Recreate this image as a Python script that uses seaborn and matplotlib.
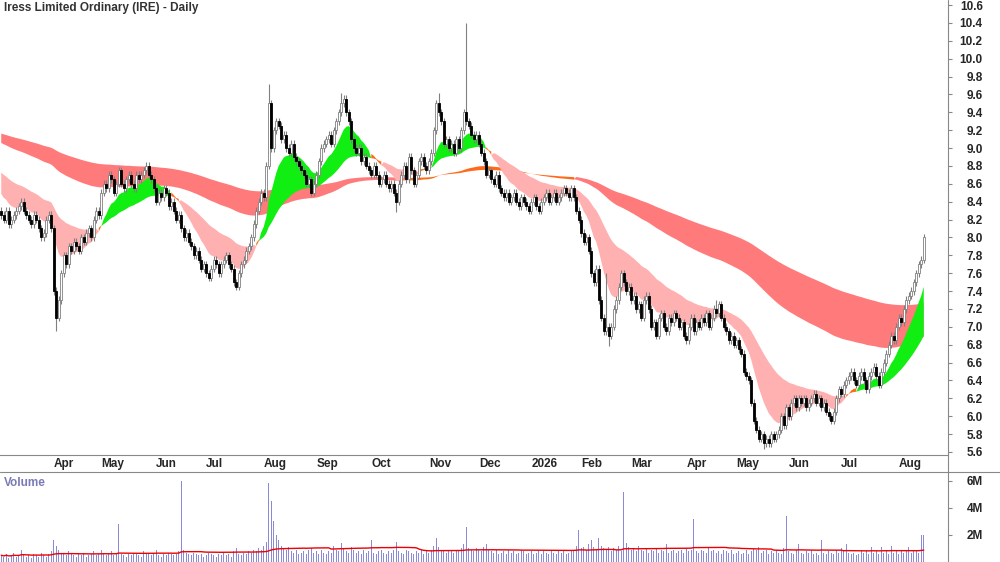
import matplotlib
matplotlib.use("Agg")
import matplotlib.pyplot as plt
import seaborn as sns
import numpy as np
import pandas as pd

# ribbon levels at the first visible bar
short_seed = {"fast": 8.53, "slow": 8.75}
long_seed = {"fast": 9.07, "slow": 9.17}
short_spans = (12, 40)
long_spans = (120, 220)

closes = [8.25, 8.2, 8.3, 8.15, 8.2, 8.25, 8.3, 8.35, 8.4, 8.3,
          8.25, 8.2, 8.15, 8.25, 8.2, 8.1, 8.0, 8.05, 8.2, 8.25,
          8.1, 7.4, 7.1, 7.3, 7.6, 7.8, 7.7, 7.9, 7.85, 7.95,
          7.9, 7.85, 8.0, 7.95, 8.05, 8.1, 8.0, 8.2, 8.3, 8.25,
          8.5, 8.6, 8.55, 8.7, 8.65, 8.5, 8.6, 8.75, 8.6, 8.55,
          8.65, 8.7, 8.6, 8.55, 8.7, 8.65, 8.7, 8.75, 8.8, 8.7,
          8.65, 8.55, 8.4, 8.5, 8.45, 8.55, 8.5, 8.35, 8.4, 8.3,
          8.2, 8.25, 8.1, 8.0, 8.05, 7.95, 7.9, 7.8, 7.85, 7.75,
          7.65, 7.7, 7.6, 7.55, 7.65, 7.75, 7.7, 7.6, 7.7, 7.75,
          7.8, 7.7, 7.65, 7.5, 7.45, 7.6, 7.7, 7.75, 7.85, 7.9,
          8.0, 8.15, 8.3, 8.4, 8.5, 8.45, 8.8, 9.5, 9.0, 9.2,
          9.3, 9.25, 9.1, 9.15, 9.0, 8.95, 9.05, 8.9, 8.85, 8.8,
          8.75, 8.7, 8.6, 8.65, 8.5, 8.6, 8.7, 8.85, 9.0, 9.05,
          9.1, 9.15, 9.05, 9.2, 9.3, 9.4, 9.5, 9.55, 9.4, 9.3,
          9.1, 9.0, 8.95, 9.0, 8.85, 8.9, 8.8, 8.75, 8.7, 8.8,
          8.7, 8.6, 8.65, 8.7, 8.6, 8.55, 8.6, 8.5, 8.4, 8.6,
          8.7, 8.8, 8.65, 8.9, 8.75, 8.6, 8.7, 8.85, 8.9, 8.8,
          8.75, 8.85, 8.95, 9.2, 9.5, 9.4, 9.3, 9.05, 9.1, 9.0,
          9.05, 8.95, 9.1, 9.0, 9.2, 9.4, 9.3, 9.25, 9.15, 9.1,
          9.15, 9.05, 8.95, 8.85, 8.7, 8.75, 8.65, 8.6, 8.7, 8.55,
          8.5, 8.45, 8.5, 8.4, 8.45, 8.5, 8.4, 8.35, 8.45, 8.4,
          8.35, 8.3, 8.4, 8.45, 8.35, 8.3, 8.4, 8.45, 8.5, 8.4,
          8.45, 8.5, 8.4, 8.45, 8.5, 8.55, 8.5, 8.45, 8.55, 8.45,
          8.3, 8.2, 8.05, 7.95, 8.0, 7.85, 7.6, 7.5, 7.65, 7.3,
          7.1, 6.95, 7.0, 6.9, 7.0, 7.2, 7.3, 7.45, 7.6, 7.5,
          7.4, 7.45, 7.3, 7.35, 7.2, 7.25, 7.1, 7.3, 7.35, 7.2,
          7.0, 7.05, 6.9, 7.1, 7.15, 7.0, 6.95, 7.1, 7.05, 7.15,
          7.1, 7.0, 7.05, 6.9, 6.85, 7.0, 7.1, 6.95, 7.05, 7.0,
          7.1, 7.05, 7.15, 7.0, 7.1, 7.2, 7.15, 7.25, 7.1, 7.0,
          6.95, 6.85, 6.9, 6.8, 6.85, 6.75, 6.7, 6.5, 6.45, 6.4,
          6.15, 5.95, 5.85, 5.75, 5.8, 5.7, 5.75, 5.7, 5.8, 5.75,
          5.8, 5.85, 6.0, 5.9, 6.1, 6.0, 6.15, 6.2, 6.1, 6.2,
          6.15, 6.2, 6.1, 6.15, 6.2, 6.25, 6.15, 6.2, 6.1, 6.15,
          6.05, 6.0, 5.95, 6.05, 6.2, 6.3, 6.25, 6.35, 6.4, 6.45,
          6.5, 6.4, 6.35, 6.45, 6.5, 6.4, 6.3, 6.45, 6.5, 6.55,
          6.45, 6.35, 6.5, 6.6, 6.7, 6.8, 6.9, 6.85, 7.0, 7.1,
          7.05, 7.2, 7.3, 7.35, 7.4, 7.5, 7.6, 7.7, 7.75, 8.0]
first_open = 8.3

# long wicks that stand out
extra_highs = {107: 9.72, 136: 9.62, 175: 9.62, 186: 10.4, 242: 7.6, 286: 7.3}
extra_lows = {22: 6.95, 158: 8.28, 243: 6.78, 305: 5.63}

# volume in millions
volume = [0.5, 0.4, 0.6, 0.3, 0.5, 0.7, 0.4, 0.5, 0.9, 0.6,
          0.4, 0.5, 0.3, 0.6, 0.5, 0.4, 0.7, 0.5, 0.4, 0.6,
          0.8, 1.6, 1.2, 0.9, 0.7, 0.6, 0.5, 0.8, 0.6, 0.5,
          0.4, 0.6, 0.5, 0.7, 0.4, 0.5, 0.6, 0.8, 0.5, 0.6,
          0.9, 0.7, 0.5, 0.6, 0.8, 0.5, 0.7, 2.8, 0.6, 0.5,
          0.4, 0.6, 0.5, 0.7, 0.6, 0.5, 0.4, 0.8, 0.6, 0.7,
          0.5, 0.6, 0.9, 0.5, 0.4, 0.6, 0.5, 0.7, 0.6, 0.5,
          0.6, 0.8, 6.0, 0.9, 0.7, 0.6, 0.5, 0.7, 0.6, 0.5,
          0.6, 0.4, 0.5, 0.7, 0.6, 0.5, 0.4, 0.6, 0.5, 0.7,
          0.5, 0.6, 0.4, 0.8, 1.0, 0.6, 0.5, 0.7, 0.6, 0.8,
          0.7, 0.9, 0.8, 1.0, 0.9, 1.2, 1.5, 5.8, 4.5, 3.0,
          2.0, 1.6, 1.2, 1.0, 0.9, 1.1, 0.8, 0.7, 0.9, 0.6,
          0.7, 0.8, 0.6, 0.9, 1.0, 0.7, 0.8, 0.6, 0.9, 0.7,
          0.6, 0.8, 0.7, 1.2, 0.9, 0.8, 1.4, 1.0, 0.8, 0.7,
          1.1, 0.9, 0.7, 0.8, 0.6, 0.9, 0.7, 0.8, 1.6, 0.7,
          0.6, 0.8, 0.9, 0.7, 0.6, 0.8, 0.7, 0.9, 1.5, 0.8,
          0.7, 0.6, 0.9, 0.8, 0.7, 0.6, 0.8, 0.7, 0.9, 0.6,
          0.8, 0.7, 0.9, 1.2, 1.8, 1.1, 0.9, 0.8, 0.7, 0.9,
          0.8, 0.7, 0.9, 0.8, 1.0, 1.3, 2.6, 1.0, 0.9, 0.8,
          1.0, 0.9, 0.8, 1.1, 1.3, 0.9, 0.8, 0.7, 0.9, 0.6,
          0.7, 0.8, 0.6, 0.9, 0.7, 0.8, 0.6, 0.7, 0.9, 0.8,
          0.6, 0.7, 0.8, 0.6, 0.7, 0.9, 0.6, 0.8, 0.7, 0.6,
          0.8, 0.7, 0.6, 0.9, 0.7, 0.8, 0.6, 0.7, 0.8, 0.9,
          1.2, 2.4, 1.0, 1.1, 0.9, 1.3, 1.6, 1.1, 0.9, 1.8,
          1.2, 1.0, 0.9, 1.1, 0.8, 1.0, 0.9, 1.2, 0.8, 5.2,
          1.4, 1.1, 0.9, 1.0, 0.8, 1.2, 0.9, 0.8, 1.0, 0.7,
          0.9, 0.8, 1.0, 0.7, 0.9, 0.8, 1.3, 0.7, 0.8, 0.9,
          0.7, 0.8, 0.9, 0.7, 1.0, 0.8, 0.9, 3.2, 0.8, 0.7,
          0.9, 0.8, 0.7, 1.0, 0.8, 0.9, 0.7, 0.8, 0.6, 0.9,
          0.8, 0.7, 0.9, 0.6, 0.7, 0.8, 0.6, 0.7, 0.9, 0.6,
          0.8, 1.0, 0.9, 1.1, 0.7, 0.8, 0.9, 0.6, 0.8, 0.7,
          0.9, 0.7, 0.6, 1.0, 3.4, 0.8, 0.7, 0.6, 0.9, 1.3,
          0.7, 0.6, 0.8, 0.7, 0.9, 0.6, 0.7, 0.5, 1.6, 0.7,
          0.6, 0.8, 0.7, 0.6, 0.9, 0.7, 1.0, 0.8, 1.3, 0.7,
          0.6, 0.7, 0.5, 0.6, 0.8, 0.7, 0.9, 0.6, 1.1, 0.7,
          0.8, 0.6, 1.1, 0.7, 0.9, 0.6, 1.2, 0.7, 0.8, 0.6,
          0.9, 0.7, 0.8, 1.1, 0.7, 0.9, 0.8, 0.7, 2.0, 2.0]

asx_holidays = ["2025-04-18", "2025-04-21", "2025-04-25", "2025-06-09",
                "2025-12-25", "2025-12-26", "2026-01-01", "2026-01-26",
                "2026-04-03", "2026-04-06", "2026-06-08"]

n = len(closes)
dates = pd.bdate_range("2025-03-03", periods=n, freq="C", holidays=asx_holidays)


def ema(seed, span):
    a = 2.0 / (span + 1)
    out, e = [], seed
    for v in closes:
        e = e + a * (v - e)
        out.append(e)
    return np.array(out)


s_fast = ema(short_seed["fast"], short_spans[0])
s_slow = ema(short_seed["slow"], short_spans[1])
l_fast = ema(long_seed["fast"], long_spans[0])
l_slow = ema(long_seed["slow"], long_spans[1])

c = np.array(closes)
o = np.array([first_open] + closes[:-1])
hi = np.maximum(o, c) + 0.04
lo = np.minimum(o, c) - 0.04
for k, v in extra_highs.items():
    hi[k] = v
for k, v in extra_lows.items():
    lo[k] = v
x = np.arange(n)

sns.set_style("white")
plt.rcParams['font.family'] = ['Liberation Sans', 'DejaVu Sans']

fig = plt.figure(figsize=(10, 5.62), dpi=100)
ax = fig.add_axes([0, 1 - 455 / 562, 0.948, 455 / 562])
axv = fig.add_axes([0, 0, 0.948, 88 / 562])

# long ribbon
lt, lb = np.maximum(l_fast, l_slow), np.minimum(l_fast, l_slow)
ld = l_fast - l_slow
ax.fill_between(x, lb, lt, where=ld < -0.03, color="#ff7a7a", lw=0, interpolate=True)
ax.fill_between(x, lb, lt, where=(ld >= -0.03) & (ld <= 0.06), color="#ff6a1a", lw=0, interpolate=True)
ax.fill_between(x, lb, lt, where=ld > 0.06, color="#3cb371", lw=0, interpolate=True)
# short ribbon
st, sb = np.maximum(s_fast, s_slow), np.minimum(s_fast, s_slow)
sd = s_fast - s_slow
ax.fill_between(x, sb, st, where=sd < -0.05, color="#ffb0b0", lw=0, interpolate=True)
ax.fill_between(x, sb, st, where=(sd >= -0.05) & (sd <= 0.05), color="#ff6a1a", lw=0, interpolate=True)
ax.fill_between(x, sb, st, where=sd > 0.05, color="#11ee11", lw=0, interpolate=True)

# candles
up = c >= o
ax.vlines(x, lo, hi, color="#808080", lw=0.8, zorder=3)
ax.bar(x[up], np.maximum(c[up] - o[up], 0.01), bottom=o[up], width=0.7,
       color="white", edgecolor="#808080", lw=0.6, zorder=4)
ax.bar(x[~up], o[~up] - c[~up], bottom=c[~up], width=0.7,
       color="black", edgecolor="black", lw=0.6, zorder=4)

ax.set_xlim(-0.5, 378.7)
ax.set_ylim(5.566, 10.656)
yt = np.round(np.arange(5.6, 10.61, 0.2), 1)
ax.yaxis.tick_right()
ax.set_yticks(yt)
ax.set_yticklabels([f"{v:.1f}" for v in yt], fontsize=8.5, fontweight="bold")
ax.tick_params(axis="y", direction="out", length=3, pad=22, color="#888888")
for lab in ax.get_yticklabels():
    lab.set_horizontalalignment("right")

# month ticks (first partial month left unlabelled)
month_pos, month_lab = [], []
for p in pd.period_range(dates[0], dates[-1], freq="M")[1:]:
    idx = np.where((dates.year == p.year) & (dates.month == p.month))[0]
    month_pos.append(idx[0])
    month_lab.append(str(p.year) if p.month == 1 else dates[idx[0]].strftime("%b"))
ax.set_xticks(month_pos)
ax.set_xticklabels(month_lab, fontsize=8.5, fontweight="bold", ha="left")
ax.tick_params(axis="x", direction="in", length=3, pad=2, color="#888888")
for s in ax.spines.values():
    s.set_visible(False)
ax.spines["bottom"].set_visible(True)
ax.spines["bottom"].set_color("#888888")
ax.text(0.004, 0.995, "Iress Limited Ordinary (IRE) - Daily", transform=ax.transAxes,
        fontsize=8.5, fontweight="bold", color="#333333", va="top")

# volume
vol = pd.DataFrame({"x": x, "v": volume})
vol["ma"] = vol["v"].rolling(60, min_periods=1).mean()
axv.bar(vol["x"], vol["v"], width=0.45, color="#8a8ad8", lw=0)
sns.lineplot(data=vol, x="x", y="ma", ax=axv, color="#ee0000", lw=1.0)
axv.set_xlim(-0.5, 378.7)
axv.set_ylim(0, 6.5)
axv.set_xticks([])
axv.set_xlabel("")
axv.set_ylabel("")
axv.yaxis.tick_right()
axv.set_yticks([2, 4, 6])
axv.set_yticklabels(["2M", "4M", "6M"], fontsize=8.5, fontweight="bold")
axv.tick_params(axis="y", direction="out", length=3, pad=22, color="#888888")
for lab in axv.get_yticklabels():
    lab.set_horizontalalignment("right")
for s in axv.spines.values():
    s.set_visible(False)
axv.text(0.004, 0.97, "Volume", transform=axv.transAxes, fontsize=8.5,
         fontweight="bold", color="#7a7ab8", va="top")

# frame lines
fig.add_artist(plt.Line2D([0.948, 0.948], [0, 1], color="#888888", lw=0.8))
fig.add_artist(plt.Line2D([0, 1], [1 - 472 / 562, 1 - 472 / 562], color="#888888", lw=0.8))

fig.savefig("out.png", dpi=100)
